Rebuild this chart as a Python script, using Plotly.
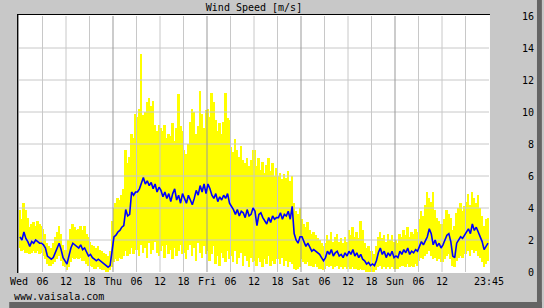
import plotly.graph_objects as go

# ---------------- data (30-minute samples, Wed 00:00 -> Sun 23:30) ----------------
avg_ws = [
    # Wed 00-06
    2.2, 2.0, 2.5, 2.1, 1.9, 1.6, 1.9, 1.8, 2.0, 1.9, 1.8, 1.8,
    # Wed 06-12
    1.7, 1.5, 1.0, 0.9, 0.8, 0.9, 1.2, 1.5, 1.8, 1.4, 0.9, 0.7,
    # Wed 12-18
    0.5, 1.0, 1.5, 1.8, 1.7, 1.6, 1.5, 1.7, 1.4, 1.5, 1.2, 1.0,
    # Wed 18-24
    1.1, 0.9, 0.8, 0.7, 0.8, 0.7, 0.6, 0.5, 0.4, 0.3, 0.4, 1.3,
    # Thu 00-06
    2.2, 2.3, 2.5, 2.6, 2.8, 2.9, 3.9, 3.5, 3.6, 5.0, 4.8, 5.0,
    # Thu 06-12
    5.0, 5.2, 5.6, 5.9, 5.5, 5.7, 5.4, 5.6, 5.2, 5.5, 5.0, 5.3,
    # Thu 12-18
    5.1, 4.7, 5.0, 4.6, 4.9, 4.4, 4.9, 5.2, 4.5, 4.8, 4.3, 4.9,
    # Thu 18-24
    4.6, 4.3, 4.8, 4.5, 4.2, 4.6, 5.1, 4.8, 5.4, 5.0, 5.5, 4.9,
    # Fri 00-06
    5.5, 5.2, 4.8, 4.6, 4.9, 4.4, 4.7, 4.5, 4.8, 4.6, 4.9, 4.3,
    # Fri 06-12
    4.1, 3.9, 3.6, 3.9, 3.5, 3.8, 3.7, 3.4, 3.9, 3.5, 3.6, 4.0,
    # Fri 12-18
    3.8, 2.9, 3.6, 3.7, 3.4, 3.2, 3.0, 3.4, 3.1, 3.5, 3.3, 3.4,
    # Fri 18-24
    3.4, 3.7, 3.3, 3.6, 3.5, 3.8, 3.3, 4.1, 2.4, 2.0, 1.8, 2.2,
    # Sat 00-06
    2.2, 1.9, 1.6, 1.8, 1.5, 1.3, 1.4, 1.3, 1.2, 1.1, 0.9, 0.7,
    # Sat 06-12
    0.9, 1.3, 1.1, 1.4, 1.0, 1.2, 1.3, 1.0, 1.1, 0.9, 1.2, 1.0,
    # Sat 12-18
    1.3, 1.1, 1.4, 1.0, 1.2, 0.9, 1.1, 0.8, 0.7, 0.5, 0.6, 0.4,
    # Sat 18-24
    0.5, 0.4, 0.7, 1.2, 1.5, 1.1, 1.3, 0.9, 1.2, 1.0, 1.3, 0.9,
    # Sun 00-06
    1.0, 0.9, 1.3, 1.1, 1.4, 1.2, 1.5, 1.1, 1.3, 1.2, 1.4, 1.3,
    # Sun 06-12
    1.6, 1.9, 1.7, 2.0, 2.2, 2.7, 2.4, 1.7, 2.0, 1.6, 1.8, 1.5,
    # Sun 12-18
    1.7, 2.0, 2.3, 2.4, 1.9, 1.0, 0.9, 1.8, 2.0, 2.2, 2.1, 2.3,
    # Sun 18-24
    2.5, 2.7, 2.4, 3.0, 2.6, 2.8, 2.5, 2.2, 1.9, 1.4, 1.6, 1.8,
]

max_ws = [
    3.9, 3.3, 4.3, 3.9, 3.4, 2.8, 3.0, 3.1, 2.9, 3.2, 3.0, 2.9,
    2.7, 2.4, 1.8, 1.6, 1.5, 1.8, 2.2, 2.5, 2.9, 2.4, 1.7, 1.4,
    1.4, 2.0, 2.7, 3.0, 2.8, 2.6, 2.7, 2.9, 2.6, 2.9, 2.4, 2.2,
    1.9, 1.7, 1.6, 1.5, 1.6, 1.4, 1.3, 1.2, 1.1, 1.0, 1.3, 3.2,
    4.0, 4.3, 4.6, 4.5, 4.8, 5.2, 7.6, 6.8, 7.2, 8.6, 8.4, 9.9,
    9.7, 10.2, 13.6, 9.8, 10.0, 10.6, 10.9, 10.4, 10.7, 9.2, 8.8, 9.2,
    9.0, 8.8, 9.2, 8.4, 8.6, 8.5, 9.3, 8.2, 9.0, 11.1, 9.1, 8.8,
    7.6, 7.4, 8.0, 9.4, 10.2, 10.0, 8.6, 9.1, 11.3, 9.9, 9.0, 10.1,
    10.2, 9.7, 11.2, 10.6, 9.5, 8.8, 9.3, 8.6, 9.4, 11.2, 9.6, 9.5,
    7.8, 7.5, 8.3, 7.6, 7.2, 7.9, 7.0, 6.8, 7.1, 6.6, 7.0, 7.6,
    7.6, 6.6, 7.1, 6.4, 6.9, 6.2, 6.7, 7.1, 6.3, 6.8, 6.0, 6.5,
    6.0, 6.2, 5.8, 6.1, 5.9, 6.3, 5.7, 6.0, 4.3, 3.8, 3.6, 4.0,
    3.3, 3.0, 2.8, 3.1, 2.6, 2.4, 2.5, 2.3, 2.1, 2.0, 1.8, 1.6,
    1.8, 2.3, 2.0, 2.5, 1.9, 2.2, 2.4, 1.9, 2.1, 1.8, 2.2, 1.9,
    2.6, 2.3, 2.8, 2.2, 2.5, 2.1, 3.2, 2.6, 1.8, 1.5, 1.6, 1.3,
    1.3, 1.1, 1.6, 2.2, 2.5, 2.1, 2.3, 1.9, 2.4, 2.0, 2.3, 1.9,
    2.0, 1.8, 2.4, 2.2, 2.6, 2.3, 2.8, 2.2, 2.5, 2.4, 2.7, 2.5,
    3.3, 3.8, 3.5, 4.2, 5.0, 4.6, 4.4, 5.0, 3.9, 3.4, 3.2, 3.0,
    3.0, 3.3, 3.9, 3.6, 3.4, 2.6, 2.9, 3.7, 4.0, 4.3, 3.8, 4.1,
    4.4, 4.9, 4.2, 5.0, 4.6, 4.3, 4.8, 4.0, 3.5, 2.9, 3.3, 3.4,
]

min_ws = [
    1.5, 1.3, 1.4, 1.2, 1.2, 1.1, 1.2, 1.3, 1.2, 1.3, 1.1, 1.2,
    1.0, 0.8, 0.5, 0.4, 0.4, 0.5, 0.6, 0.8, 1.0, 0.7, 0.4, 0.3,
    0.1, 0.3, 0.6, 0.9, 0.8, 0.9, 0.8, 0.9, 0.7, 0.7, 0.5, 0.4,
    0.4, 0.3, 0.2, 0.2, 0.3, 0.2, 0.1, 0.1, 0.0, 0.0, 0.1, 0.3,
    0.6, 0.8, 0.7, 0.9, 0.8, 1.0, 1.3, 1.0, 1.1, 1.5, 1.1, 1.4,
    1.4, 1.0, 1.7, 1.2, 1.5, 0.9, 1.8, 1.1, 1.4, 1.9, 1.2, 1.0,
    1.3, 1.6, 0.9, 1.7, 1.1, 1.4, 0.8, 1.5, 1.0, 1.3, 1.7, 1.1,
    1.2, 0.8, 1.4, 1.7, 1.0, 1.5, 0.7, 1.8, 1.2, 0.9, 1.6, 1.1,
    1.3, 0.7, 1.1, 1.6, 0.5, 1.0, 0.4, 1.2, 0.9, 0.6, 1.3, 0.8,
    1.0, 0.6, 1.3, 0.5, 0.9, 1.2, 0.4, 1.0, 0.7, 0.3, 0.9, 0.6,
    0.7, 0.4, 0.9, 0.6, 0.3, 0.8, 0.5, 1.0, 0.4, 0.7, 0.5, 0.8,
    0.8, 0.5, 0.9, 0.4, 0.7, 0.3, 0.6, 0.5, 0.2, 0.1, 0.2, 0.3,
    0.8, 0.6, 0.5, 0.6, 0.4, 0.4, 0.3, 0.5, 0.3, 0.2, 0.2, 0.1,
    0.2, 0.4, 0.3, 0.4, 0.2, 0.3, 0.4, 0.2, 0.3, 0.2, 0.3, 0.2,
    0.3, 0.2, 0.3, 0.2, 0.2, 0.1, 0.2, 0.1, 0.1, 0.0, 0.0, 0.0,
    0.0, 0.0, 0.1, 0.3, 0.4, 0.2, 0.3, 0.2, 0.3, 0.2, 0.3, 0.2,
    0.2, 0.2, 0.3, 0.4, 0.4, 0.3, 0.5, 0.3, 0.4, 0.3, 0.5, 0.4,
    0.7, 0.9, 0.8, 1.0, 1.1, 1.3, 1.0, 0.8, 0.9, 0.7, 0.8, 0.6,
    0.6, 0.8, 1.0, 1.1, 0.8, 0.4, 0.3, 0.7, 0.9, 1.0, 0.9, 1.1,
    1.1, 1.3, 1.0, 1.4, 1.2, 1.3, 1.0, 0.9, 0.6, 0.3, 0.5, 0.7,
]

sample_hours = [i * 0.5 for i in range(len(avg_ws))]   # hours since Wed 00:00
x_tick_vals = [0, 6, 12, 18, 24, 30, 36, 42, 48, 54, 60, 66, 72, 78, 84, 90, 96, 102, 108, 114, 120]
x_tick_text = ["Wed", "06", "12", "18", "Thu", "06", "12", "18", "Fri", "06", "12", "18",
               "Sat", "06", "12", "18", "Sun", "06", "12", "", "23:45"]
day_lines = [24, 48, 72, 96]
y_tick_vals = [0, 2, 4, 6, 8, 10, 12, 14, 16]
title_text = "Wind Speed [m/s]"
footer_text = "www.vaisala.com"

# ---------------- figure ----------------
W, H = 544, 308
L, R, T, B = 10, 54, 16, 36
PW, PH = W - L - R, H - T - B
FONT = "DejaVu Sans Mono"


def px(xp):
    return (xp - L) / PW


def py(yp):
    return (H - B - yp) / PH


fig = go.Figure()

# min..max band (yellow bars)
fig.add_trace(go.Bar(
    x=sample_hours,
    y=[mx - mn for mx, mn in zip(max_ws, min_ws)],
    base=min_ws,
    width=0.5, offset=0,
    marker=dict(color="#ffff00", line=dict(width=0)),
    hoverinfo="skip", showlegend=False,
))

# grid lines drawn above the band, below the average line
light_vx, light_vy = [], []
for v in x_tick_vals[1:-1]:
    if v in day_lines:
        continue
    light_vx += [v, v, None]
    light_vy += [0, 16, None]
for v in y_tick_vals[1:-1]:
    light_vx += [0, 120, None]
    light_vy += [v, v, None]
fig.add_trace(go.Scatter(x=light_vx, y=light_vy, mode="lines",
                         line=dict(color="#c8c8c8", width=1),
                         hoverinfo="skip", showlegend=False))
dark_x, dark_y = [], []
for v in day_lines:
    dark_x += [v, v, None]
    dark_y += [0, 16, None]
fig.add_trace(go.Scatter(x=dark_x, y=dark_y, mode="lines",
                         line=dict(color="#999999", width=1),
                         hoverinfo="skip", showlegend=False))

# average (blue line)
fig.add_trace(go.Scatter(
    x=[h + 0.25 for h in sample_hours], y=avg_ws, mode="lines",
    line=dict(color="#0000ff", width=1.6),
    hoverinfo="skip", showlegend=False,
))

shapes = [
    # white inset panel
    dict(type="rect", xref="paper", yref="paper", x0=px(9), x1=px(491), y0=py(273), y1=py(15),
         fillcolor="white", line=dict(width=0), layer="below"),
    # dark top/left edges
    dict(type="line", xref="paper", yref="paper", x0=px(8), x1=px(491), y0=py(14.5), y1=py(14.5),
         line=dict(color="black", width=1)),
    dict(type="line", xref="paper", yref="paper", x0=px(8.5), x1=px(8.5), y0=py(14), y1=py(273),
         line=dict(color="black", width=1)),
    dict(type="line", xref="paper", yref="paper", x0=px(9.5), x1=px(9.5), y0=py(15), y1=py(273),
         line=dict(color="#999999", width=1)),
    # drop shadow on right and bottom
    dict(type="rect", xref="paper", yref="paper", x0=px(539), x1=px(544), y0=py(308), y1=py(0),
         fillcolor="#646464", line=dict(width=0)),
    dict(type="rect", xref="paper", yref="paper", x0=px(0), x1=px(544), y0=py(308), y1=py(302),
         fillcolor="#646464", line=dict(width=0)),
]

annotations = [
    dict(text=footer_text, xref="paper", yref="paper", x=px(3), y=py(296),
         xanchor="left", yanchor="middle", showarrow=False,
         font=dict(family=FONT, size=10, color="black")),
]

fig.update_layout(
    width=W, height=H, autosize=False,
    margin=dict(l=L, r=R, t=T, b=B, pad=0),
    paper_bgcolor="#c8c8c8",
    plot_bgcolor="white",
    bargap=0,
    showlegend=False,
    title=dict(text=title_text, x=0.5, xref="paper", xanchor="center",
               y=1 - 7 / H, yref="container", yanchor="middle",
               font=dict(family=FONT, size=10, color="black")),
    xaxis=dict(range=[0, 120], tickvals=x_tick_vals, ticktext=x_tick_text,
               showgrid=False, zeroline=False, showline=False, ticks="",
               tickfont=dict(family=FONT, size=10, color="black"),
               ticklabelstandoff=2, fixedrange=True),
    yaxis=dict(range=[0, 16], tickvals=y_tick_vals,
               ticktext=[("\u00a0" + str(v)) if v < 10 else str(v) for v in y_tick_vals],
               side="right", showgrid=False, zeroline=False, showline=False, ticks="",
               tickfont=dict(family=FONT, size=10, color="black"),
               ticklabelstandoff=32, fixedrange=True),
    shapes=shapes,
    annotations=annotations,
)

fig.write_html("out.html")
